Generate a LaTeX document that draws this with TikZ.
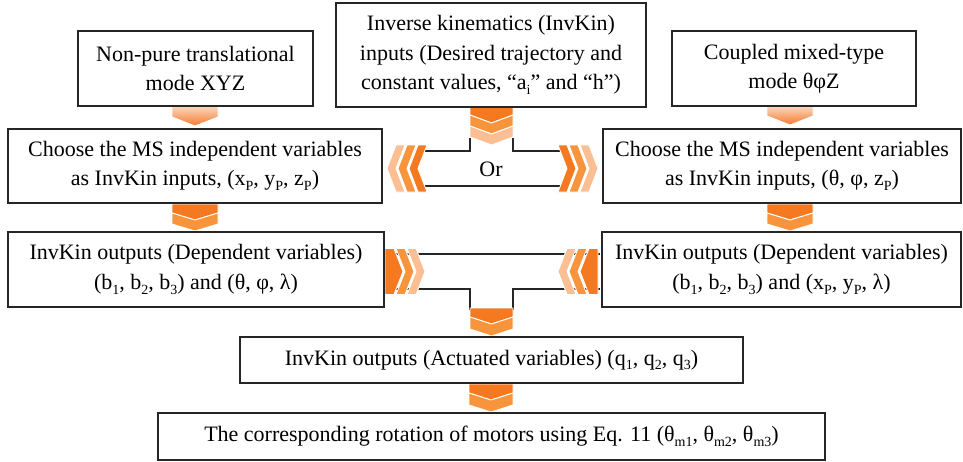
\documentclass[tikz,border=0pt]{standalone}
\usepackage{fontspec}
\setmainfont{Liberation Serif}
\definecolor{odark}{HTML}{F47920}
\definecolor{omid}{HTML}{F8953C}
\definecolor{olight}{HTML}{FBBF93}
\definecolor{gtop}{HTML}{FCDCC8}
\definecolor{gbot}{HTML}{F47A2C}
\newcommand\sbs[1]{\raisebox{-0.22em}{\fontsize{14}{14}\selectfont #1}}
% down chevron (notched top), flat-top variant
\newcommand\cvD[6]{\path[chev,#6] (#1,#2) -- ({#1+0.5*#3},{#2+#5}) -- ({#1+#3},#2) -- ({#1+#3},{#2+#4-#5}) -- ({#1+0.5*#3},{#2+#4}) -- (#1,{#2+#4-#5}) -- cycle;}
\newcommand\cvDf[6]{\path[chev,#6] (#1,#2) -- ({#1+#3},#2) -- ({#1+#3},{#2+#4-#5}) -- ({#1+0.5*#3},{#2+#4}) -- (#1,{#2+#4-#5}) -- cycle;}
% left / right pointing chevrons: {tip x}{centre y}{thickness}{height}{depth}{opts}
\newcommand\cvL[6]{\path[chev,#6] (#1,#2) -- ({#1+#5},{#2-0.5*#4}) -- ({#1+#5+#3},{#2-0.5*#4}) -- ({#1+#3},#2) -- ({#1+#5+#3},{#2+0.5*#4}) -- ({#1+#5},{#2+0.5*#4}) -- cycle;}
\newcommand\cvR[6]{\path[chev,#6] (#1,#2) -- ({#1-#5},{#2-0.5*#4}) -- ({#1-#5-#3},{#2-0.5*#4}) -- ({#1-#3},#2) -- ({#1-#5-#3},{#2+0.5*#4}) -- ({#1-#5},{#2+0.5*#4}) -- cycle;}
\newcommand\cvLf[6]{\path[chev,#6] (#1,#2) -- ({#1+#5},{#2-0.5*#4}) -- ({#1+#5+#3},{#2-0.5*#4}) -- ({#1+#5+#3},{#2+0.5*#4}) -- ({#1+#5},{#2+0.5*#4}) -- cycle;}
\newcommand\cvRf[6]{\path[chev,#6] (#1,#2) -- ({#1-#5},{#2-0.5*#4}) -- ({#1-#5-#3},{#2-0.5*#4}) -- ({#1-#5-#3},{#2+0.5*#4}) -- ({#1-#5},{#2+0.5*#4}) -- cycle;}
\tikzset{
  chev/.style={draw=white,line width=0.9pt},
  box/.style={draw=black!85,line width=1.1pt,fill=white,inner sep=0pt,align=center,
    font=\fontsize{22}{29.5}\selectfont},
  conn/.style={draw=black!85,line width=1.1pt},
  grad/.style={top color=gtop,bottom color=gbot}
}
\begin{document}
\begin{tikzpicture}[x=1pt,y=-1pt]
\useasboundingbox (0,0) rectangle (963,461);
% connector lines
\coordinate (o1) at (420,151); \coordinate (o2) at (470,151); \coordinate (o3) at (470,138);
\coordinate (o4) at (513,138); \coordinate (o5) at (513,151); \coordinate (o6) at (565,151);
\coordinate (o7) at (420,186); \coordinate (o8) at (565,186);
\draw[conn] (o1) -- (o2) -- (o3);
\draw[conn] (o4) -- (o5) -- (o6);
\draw[conn] (o7) -- (o8);
\coordinate (p1) at (380,254); \coordinate (p2) at (600,254);
\coordinate (p3) at (380,289); \coordinate (p4) at (470,289); \coordinate (p5) at (470,310);
\coordinate (p6) at (513,310); \coordinate (p7) at (513,289); \coordinate (p8) at (600,289);
\draw[conn] (p1) -- (p2);
\draw[conn] (p3) -- (p4) -- (p5);
\draw[conn] (p6) -- (p7) -- (p8);
% chevrons
\cvDf{470}{106}{43}{17}{8}{fill=odark}
\cvD{470}{115}{43}{19}{8}{fill=omid}
\cvD{470}{126}{43}{19}{8}{fill=olight}
\cvL{409}{168.5}{9}{47}{9}{fill=odark}
\cvL{398}{168.5}{9}{47}{9}{fill=omid}
\cvL{387}{168.5}{9}{47}{9}{fill=olight}
\cvR{576}{168.5}{9}{47}{9}{fill=odark}
\cvR{587}{168.5}{9}{47}{9}{fill=omid}
\cvR{598}{168.5}{9}{47}{9}{fill=olight}
\cvRf{403}{271.5}{9}{46}{9}{fill=odark}
\cvR{414}{271.5}{9}{46}{9}{fill=omid}
\cvR{425}{271.5}{9}{46}{9}{fill=olight}
\cvLf{580}{271.5}{9}{46}{9}{fill=odark}
\cvL{569}{271.5}{9}{46}{9}{fill=omid}
\cvL{558}{271.5}{9}{46}{9}{fill=olight}
\cvDf{172}{204}{46}{16}{7}{fill=odark}
\cvD{172}{213}{46}{18}{7}{fill=omid}
\cvDf{767}{204}{46}{16}{7}{fill=odark}
\cvD{767}{213}{46}{18}{7}{fill=omid}
\cvDf{470}{308}{43}{16}{7}{fill=odark}
\cvD{470}{317}{43}{19}{7}{fill=omid}
\cvDf{469}{384}{44}{16}{7}{fill=odark}
\cvD{469}{393}{44}{19}{7}{fill=omid}
\cvDf{172}{105}{46}{21}{9}{grad}
\cvDf{767}{105}{46}{20}{9}{grad}
% boxes
\node[box,minimum width=235pt,minimum height=75pt] (np) at (195.5,68.5)
  {Non-pure translational\\mode XYZ};
\node[box,minimum width=310pt,minimum height=104pt] (inv) at (491,55)
  {Inverse kinematics (InvKin)\\inputs (Desired trajectory and\\constant values, “a\sbs{i}” and “h”)};
\node[box,minimum width=244pt,minimum height=75pt] (cp) at (794,68.5)
  {Coupled mixed-type\\mode θφZ};
\node[box,minimum width=374pt,minimum height=74pt] (chL) at (195,166)
  {Choose the MS independent variables\\as InvKin inputs, (x\sbs{P}, y\sbs{P}, z\sbs{P})};
\node[box,minimum width=358pt,minimum height=74pt] (chR) at (782,166)
  {Choose the MS independent variables\\as InvKin inputs, (θ, φ, z\sbs{P})};
\node[font=\fontsize{22}{26}\selectfont] (or) at (491,169) {Or};
\node[box,minimum width=376pt,minimum height=75pt] (depL) at (196,269.5)
  {InvKin outputs (Dependent variables)\\(b\sbs{1}, b\sbs{2}, b\sbs{3}) and (θ, φ, λ)};
\node[box,minimum width=359pt,minimum height=75pt] (depR) at (781.5,269.5)
  {InvKin outputs (Dependent variables)\\(b\sbs{1}, b\sbs{2}, b\sbs{3}) and (x\sbs{P}, y\sbs{P}, λ)};
\node[box,minimum width=503pt,minimum height=46pt] (act) at (491.5,360)
  {InvKin outputs (Actuated variables) (q\sbs{1}, q\sbs{2}, q\sbs{3})};
\node[box,minimum width=667pt,minimum height=47pt] (fin) at (491.5,436.5)
  {The corresponding rotation of motors using Eq. 11 (θ\sbs{m1}, θ\sbs{m2}, θ\sbs{m3})};
\end{tikzpicture}
\end{document}
